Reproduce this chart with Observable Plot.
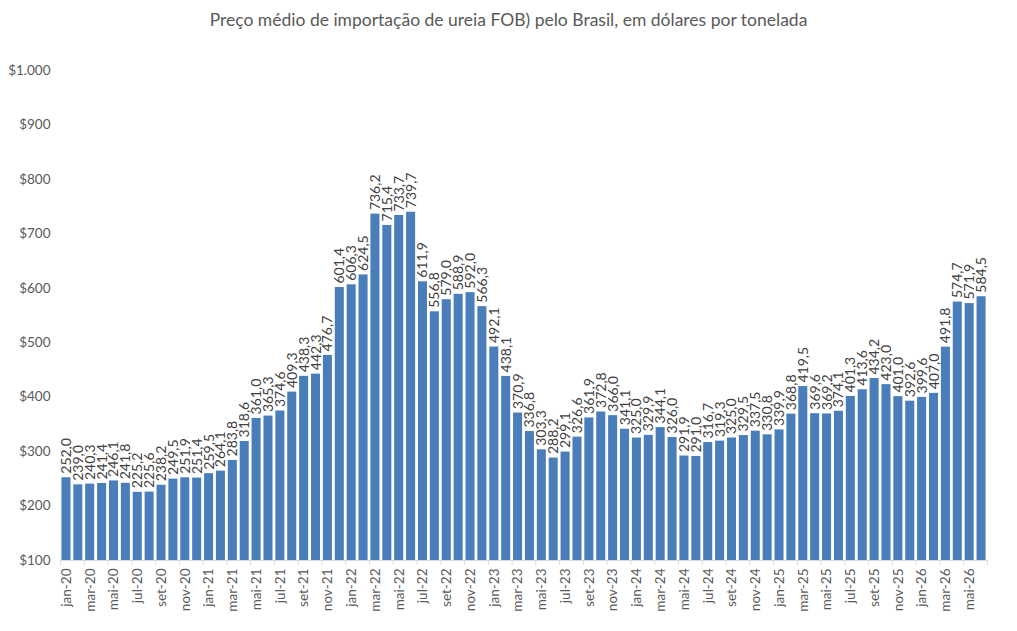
<!DOCTYPE html>
<html>
<head>
<meta charset="utf-8">
<script src="https://cdn.jsdelivr.net/npm/d3@7"></script>
<script src="https://cdn.jsdelivr.net/npm/@observablehq/plot@0.6"></script>
<style>
  html, body { margin: 0; padding: 0; background: #fff; }
  #title {
    height: 40px; line-height: 40px; text-align: center;
    font-family: Lato, "Open Sans", sans-serif; font-size: 17.5px; color: #595959;
  }
  #chart svg { display: block; }
</style>
</head>
<body>
<div id="title">Preço médio de importação de ureia FOB) pelo Brasil, em dólares por tonelada</div>
<div id="chart"></div>
<script>
// Monthly categories, jan-20 .. jun-26
const months = [
  "jan-20","fev-20","mar-20","abr-20","mai-20","jun-20","jul-20","ago-20","set-20","out-20","nov-20","dez-20",
  "jan-21","fev-21","mar-21","abr-21","mai-21","jun-21","jul-21","ago-21","set-21","out-21","nov-21","dez-21",
  "jan-22","fev-22","mar-22","abr-22","mai-22","jun-22","jul-22","ago-22","set-22","out-22","nov-22","dez-22",
  "jan-23","fev-23","mar-23","abr-23","mai-23","jun-23","jul-23","ago-23","set-23","out-23","nov-23","dez-23",
  "jan-24","fev-24","mar-24","abr-24","mai-24","jun-24","jul-24","ago-24","set-24","out-24","nov-24","dez-24",
  "jan-25","fev-25","mar-25","abr-25","mai-25","jun-25","jul-25","ago-25","set-25","out-25","nov-25","dez-25",
  "jan-26","fev-26","mar-26","abr-26","mai-26","jun-26"
];

// Average FOB import price of urea, US$ per tonne
const prices = [
  252.0, 239.0, 240.3, 241.4, 246.1, 241.8, 225.2, 225.6, 238.2, 249.5, 251.9, 251.4,
  259.5, 264.1, 283.8, 318.6, 361.0, 365.3, 374.6, 409.3, 438.3, 442.3, 476.7, 601.4,
  606.3, 624.5, 736.2, 715.4, 733.7, 739.7, 611.9, 556.8, 579.0, 588.9, 592.0, 566.3,
  492.1, 438.1, 370.9, 336.8, 303.3, 288.2, 299.1, 326.6, 361.9, 372.8, 366.0, 341.1,
  325.0, 329.9, 344.1, 326.0, 291.9, 291.0, 316.7, 319.3, 325.0, 329.5, 337.5, 330.8,
  339.9, 368.8, 419.5, 369.6, 369.2, 374.1, 401.3, 413.6, 434.2, 423.0, 401.0, 392.6,
  399.6, 407.0, 491.8, 574.7, 571.9, 584.5
];

// Value axis ticks
const yTicks = [100, 200, 300, 400, 500, 600, 700, 800, 900, 1000];

const data = months.map((m, i) => ({i, month: m, price: prices[i]}));

const ptBR = d3.formatLocale({decimal: ",", thousands: ".", grouping: [3], currency: ["$", ""]});
const fmtMoney = ptBR.format("$,.0f");
const fmtValue = ptBR.format(",.1f");

const labelIdx = data.filter(d => d.i % 2 === 0).map(d => d.i);
const boundaryIdx = data.filter(d => d.i % 2 === 0).map(d => d.i - 0.5).concat([months.length - 0.5]);

const font = "Lato, 'Open Sans', sans-serif";
const textColor = "#595959";
const halfBar = 0.38;

const chart = Plot.plot({
  width: 1017,
  height: 591,
  marginTop: 30,
  marginBottom: 71,
  marginLeft: 60,
  marginRight: 30,
  style: {fontFamily: font, color: textColor, background: "#fff"},
  x: {type: "linear", domain: [-0.5, months.length - 0.5], axis: null},
  y: {domain: [100, 1000], axis: null},
  marks: [
    Plot.rectY(data, {
      x1: d => d.i - halfBar,
      x2: d => d.i + halfBar,
      y1: yTicks[0],
      y2: "price",
      fill: "#4a7ebb"
    }),
    Plot.ruleY([yTicks[0]], {stroke: "#d9d9d9", strokeWidth: 1}),
    // small tick marks between every pair of months
    Plot.axisX({
      ticks: boundaryIdx, tickFormat: () => "", tickSize: 5,
      stroke: "#d9d9d9", anchor: "bottom", label: null
    }),
    Plot.axisX({
      ticks: labelIdx, tickFormat: i => months[i], tickSize: 0, tickPadding: 8,
      tickRotate: -90, fontSize: 13.5, fill: textColor, anchor: "bottom", label: null
    }),
    Plot.axisY({
      ticks: yTicks, tickFormat: fmtMoney, tickSize: 0, tickPadding: 10,
      fontSize: 13.5, fill: textColor, anchor: "left", label: null
    }),
    Plot.text(data, {
      x: "i", y: "price", text: d => fmtValue(d.price),
      rotate: -90, textAnchor: "start", lineAnchor: "middle",
      dy: -4, fontSize: 14, fill: "#404040"
    })
  ]
});

document.getElementById("chart").appendChild(chart);
</script>
</body>
</html>
